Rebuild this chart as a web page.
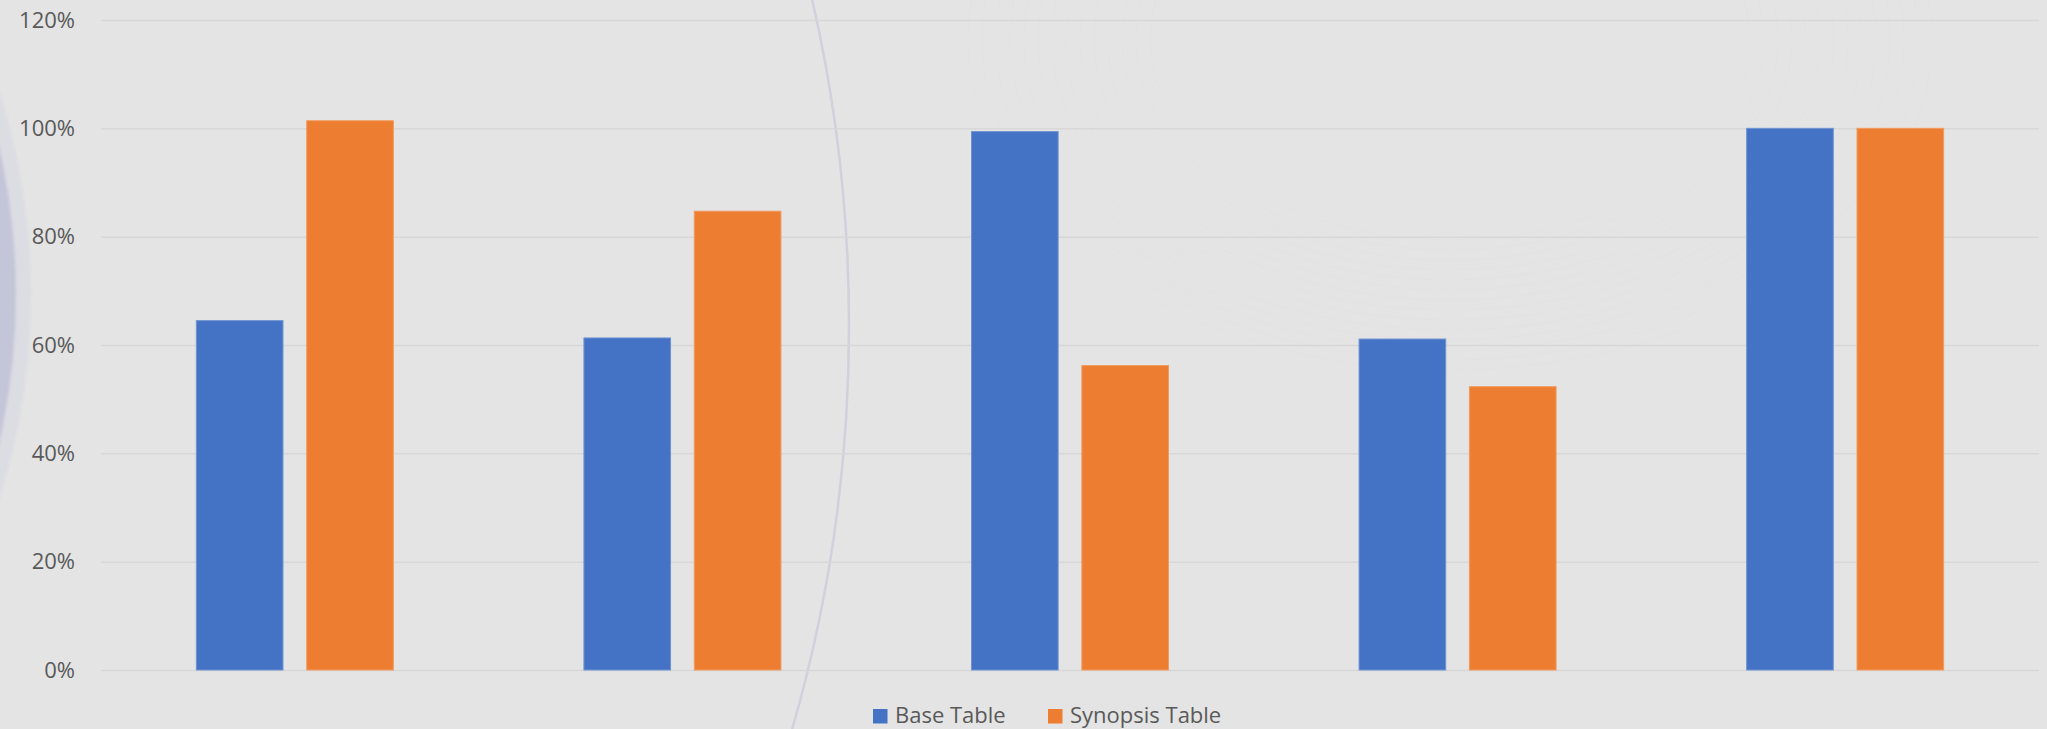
<!DOCTYPE html>
<html>
<head>
<meta charset="utf-8">
<script src="https://cdn.jsdelivr.net/npm/d3@7"></script>
<style>
  * {
    margin: 0;
    padding: 0;
    box-sizing: border-box;
  }
  body {
    background: #e4e4e4;
    overflow: hidden;
  }
  .axis text {
    font-family: "Open Sans", "Noto Sans", sans-serif;
    font-size: 22px;
    fill: #595959;
  }
  .legend text {
    font-family: "Open Sans", "Noto Sans", sans-serif;
    font-size: 22px;
    fill: #595959;
  }
</style>
</head>
<body>
<svg id="chart"></svg>
<script>
// values
const categories = ["Set 1", "Set 2", "Set 3", "Set 4", "Set 5"];
const seriesNames = ["Base Table", "Synopsis Table"];
const baseTable = [0.645, 0.613, 0.994, 0.611, 1.0];
const synopsisTable = [1.014, 0.847, 0.562, 0.523, 1.0];
const yTicks = [0, 0.2, 0.4, 0.6, 0.8, 1.0, 1.2];
const colors = ["#4472c4", "#ed7d31"];
const edgeColors = ["#6f93d2", "#f29a5e"];

const width = 2047;
const height = 729;
const marginTop = 20;
const marginBottom = 59;
const marginLeft = 101;
const marginRight = 8;

const svg = d3
  .select("#chart")
  .attr("width", width)
  .attr("height", height)
  .attr("viewBox", [0, 0, width, height]);

//===Background decoration===
const defs = svg.append("defs");
defs.append("filter")
  .attr("id", "soft")
  .attr("x", "-10%").attr("y", "-10%")
  .attr("width", "120%").attr("height", "120%")
  .append("feGaussianBlur")
  .attr("stdDeviation", 1.5);

const deco = svg.append("g");
deco.append("circle")
  .attr("cx", -644).attr("cy", 295).attr("r", 675)
  .attr("fill", "#dcdde3")
  .attr("filter", "url(#soft)");
deco.append("circle")
  .attr("cx", -644).attr("cy", 295).attr("r", 660)
  .attr("fill", "#c3c6d8")
  .attr("filter", "url(#soft)");

deco.append("circle")
  .attr("cx", -606).attr("cy", 326).attr("r", 1455)
  .attr("fill", "none")
  .attr("stroke", "#d0d1dc")
  .attr("stroke-width", 2.5);

// faint mesh arcs
d3.range(0, 14).forEach((i) => {
  deco.append("ellipse")
    .attr("cx", 1450).attr("cy", 40)
    .attr("rx", 300 + i * 14).attr("ry", 200 + i * 10)
    .attr("fill", "none")
    .attr("stroke", "#dedede")
    .attr("stroke-width", 1)
    .attr("opacity", 0.3);
});

//===Scales===
const x0 = d3
  .scaleBand()
  .domain(categories)
  .range([marginLeft, width - marginRight])
  .paddingInner(0.4917)
  .paddingOuter(0.246);

const x1 = d3
  .scaleBand()
  .domain(seriesNames)
  .range([0, x0.bandwidth()])
  .paddingInner(0.215);

const y = d3
  .scaleLinear()
  .domain([0, 1.2])
  .range([height - marginBottom, marginTop]);

//===Grid + Y axis===
svg
  .append("g")
  .attr("class", "axis")
  .attr("transform", `translate(${marginLeft},0)`)
  .call(
    d3
      .axisLeft(y)
      .tickValues(yTicks)
      .tickFormat(d3.format(".0%"))
      .tickSize(-(width - marginLeft - marginRight))
      .tickPadding(26)
  )
  .call((g) => g.select(".domain").remove())
  .call((g) =>
    g.selectAll(".tick line").attr("stroke", "#d7d7d7").attr("stroke-width", 1.5)
  );

//===Bars===
const data = categories.map((c, i) => ({
  category: c,
  values: [
    { key: seriesNames[0], value: baseTable[i] },
    { key: seriesNames[1], value: synopsisTable[i] },
  ],
}));

svg
  .append("g")
  .selectAll("g")
  .data(data)
  .join("g")
  .attr("transform", (d) => `translate(${x0(d.category)},0)`)
  .selectAll("rect")
  .data((d) => d.values)
  .join("rect")
  .attr("x", (d) => x1(d.key))
  .attr("y", (d) => y(d.value))
  .attr("width", x1.bandwidth())
  .attr("height", (d) => y(0) - y(d.value))
  .attr("fill", (d, i) => colors[i])
  .attr("stroke", (d, i) => edgeColors[i])
  .attr("stroke-width", 1);

//===Legend===
const legend = svg.append("g").attr("class", "legend");
const legendX = [873, 1048];
seriesNames.forEach((name, i) => {
  legend
    .append("rect")
    .attr("x", legendX[i])
    .attr("y", 709)
    .attr("width", 14.5)
    .attr("height", 14.5)
    .attr("fill", colors[i]);
  legend
    .append("text")
    .attr("x", legendX[i] + 22)
    .attr("y", 723)
    .text(name);
});
</script>
</body>
</html>
